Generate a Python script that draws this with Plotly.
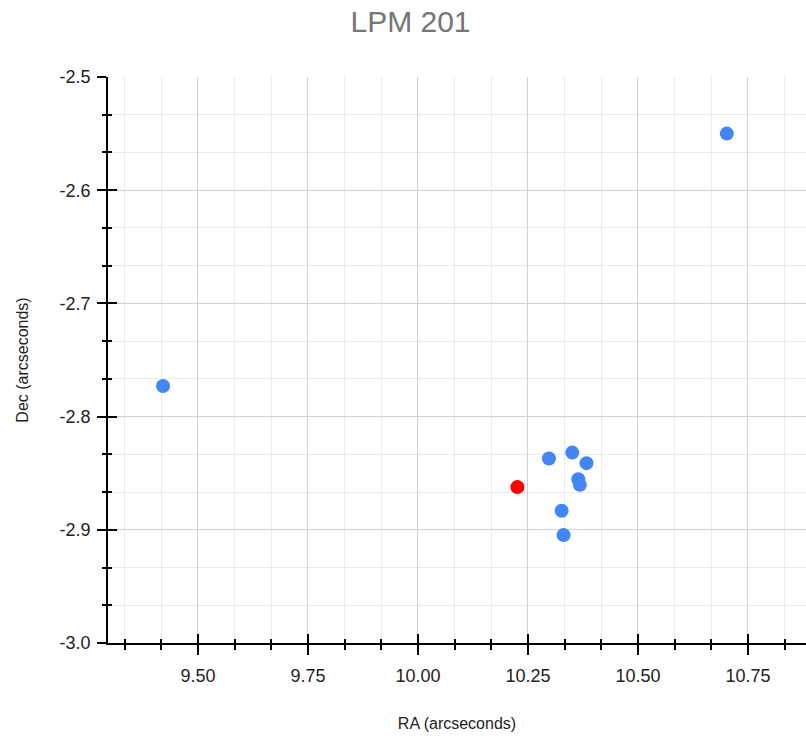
import plotly.graph_objects as go

# Data (arcseconds)
ra_blue = [10.702, 9.4205, 10.2977, 10.3507, 10.383, 10.3644, 10.368, 10.3265, 10.331]
dec_blue = [-2.550, -2.773, -2.837, -2.8318, -2.8411, -2.8553, -2.8603, -2.8832, -2.9047]
ra_red = [10.226]
dec_red = [-2.8623]

x_tickvals = [9.50, 9.75, 10.00, 10.25, 10.50, 10.75]
x_ticktext = ["9.50", "9.75", "10.00", "10.25", "10.50", "10.75"]
y_tickvals = [-3.0, -2.9, -2.8, -2.7, -2.6, -2.5]
y_ticktext = ["-3.0", "-2.9", "-2.8", "-2.7", "-2.6", "-2.5"]

x_range = [9.2955, 10.882]
y_range = [-3.0, -2.5]

FONT = "Liberation Sans, Arial, sans-serif"

fig = go.Figure()
fig.add_trace(go.Scatter(x=ra_blue, y=dec_blue, mode="markers",
                         marker=dict(size=14, color="#4285f4"), showlegend=False))
fig.add_trace(go.Scatter(x=ra_red, y=dec_red, mode="markers",
                         marker=dict(size=14, color="#ff0000"), showlegend=False))
# invisible trace to host the overlay axes (inside ticks)
fig.add_trace(go.Scatter(x=[None], y=[None], xaxis="x2", yaxis="y2",
                         mode="markers", showlegend=False, hoverinfo="skip"))

common_x = dict(range=x_range, tickmode="array", tickvals=x_tickvals)
common_y = dict(range=y_range, tickmode="array", tickvals=y_tickvals)

fig.update_layout(
    width=806, height=736,
    margin=dict(l=108, r=0, t=76.7, b=92.7),
    paper_bgcolor="white", plot_bgcolor="white",
    font=dict(family=FONT, size=16, color="#222222"),
    title=dict(text="LPM 201", x=410.5 / 806, xanchor="center", y=1 - 21.5 / 736,
               yanchor="middle", yref="container",
               font=dict(family=FONT, size=30, color="#767676")),
    xaxis=dict(**common_x, ticktext=x_ticktext,
               tickfont=dict(size=18, color="#222222"),
               showline=True, linecolor="black", linewidth=1.5,
               ticks="outside", ticklen=10, tickwidth=1.5, tickcolor="black",
               showgrid=True, gridcolor="#d0d0d0", gridwidth=1,
               zeroline=False,
               minor=dict(dtick=0.25 / 3, tick0=0, ticks="outside", ticklen=5,
                          tickwidth=1.5, tickcolor="black", showgrid=True,
                          gridcolor="#ebebeb", gridwidth=1),
               title=dict(text="RA (arcseconds)", standoff=32,
                          font=dict(size=16, color="#222222")),
               ticklabelstandoff=6),
    yaxis=dict(**common_y, ticktext=y_ticktext,
               tickfont=dict(size=18, color="#222222"),
               showline=True, linecolor="black", linewidth=1.5,
               ticks="outside", ticklen=9, tickwidth=1.5, tickcolor="black",
               showgrid=True, gridcolor="#d0d0d0", gridwidth=1,
               zeroline=False,
               minor=dict(dtick=0.1 / 3, tick0=0, ticks="outside", ticklen=4,
                          tickwidth=1.5, tickcolor="black", showgrid=True,
                          gridcolor="#ebebeb", gridwidth=1),
               title=dict(text="Dec (arcseconds)", standoff=27,
                          font=dict(size=16, color="#222222")),
               ticklabelstandoff=3),
    xaxis2=dict(**common_x, overlaying="x", side="bottom", anchor="y2",
                showticklabels=False, showgrid=False, showline=False, zeroline=False,
                ticks="inside", ticklen=9, tickwidth=1.5, tickcolor="black",
                minor=dict(dtick=0.25 / 3, tick0=0, ticks="inside", ticklen=4,
                           tickwidth=1.5, tickcolor="black", showgrid=False)),
    yaxis2=dict(**common_y, overlaying="y", side="left", anchor="x2",
                showticklabels=False, showgrid=False, showline=False, zeroline=False,
                ticks="inside", ticklen=9, tickwidth=1.5, tickcolor="black",
                minor=dict(dtick=0.1 / 3, tick0=0, ticks="inside", ticklen=4,
                           tickwidth=1.5, tickcolor="black", showgrid=False)),
)

fig.write_html("out.html", config={"displayModeBar": False},
               post_script="document.body.style.margin='0';document.body.style.overflow='hidden';")
